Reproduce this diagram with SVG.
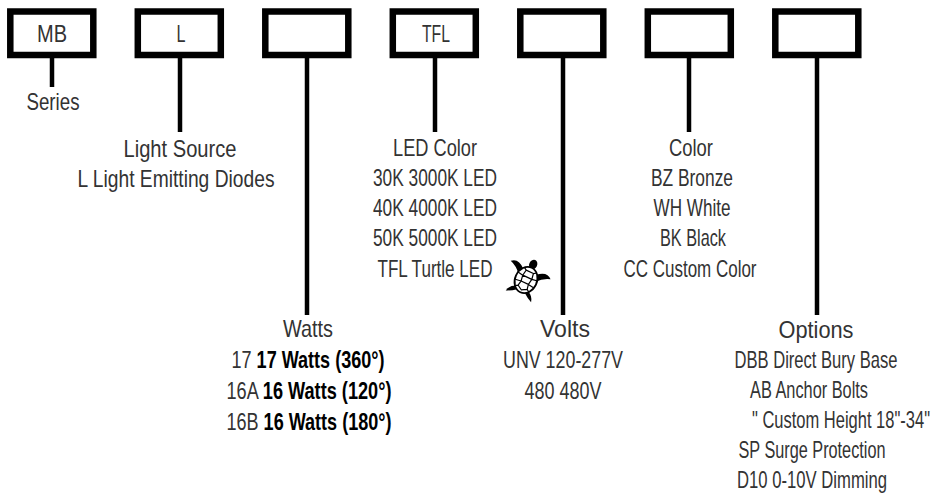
<svg xmlns="http://www.w3.org/2000/svg" width="932" height="494" viewBox="0 0 932 494">
<style>
.box{fill:#fff;stroke:#000;stroke-width:6.5}
.conn{stroke:#000;stroke-width:4.5;fill:none}
.t{font-family:"Liberation Sans",Arial,sans-serif;font-size:24px;fill:#333;text-anchor:middle}
.b{font-weight:bold;fill:#000}
</style>
<rect width="932" height="494" fill="#fff"/>
<g id="connectors">
<line class="conn" x1="52" y1="58" x2="52" y2="87"/>
<line class="conn" x1="180" y1="58" x2="180" y2="132"/>
<line class="conn" x1="307" y1="58" x2="307" y2="315"/>
<line class="conn" x1="435" y1="58" x2="435" y2="132"/>
<line class="conn" x1="563" y1="58" x2="563" y2="315"/>
<line class="conn" x1="689" y1="58" x2="689" y2="132"/>
<line class="conn" x1="817" y1="58" x2="817" y2="315"/>
</g>
<g id="node-series">
<rect class="box" x="10.3" y="11.5" width="83" height="43.5"/>
<text class="t" x="52" y="42" textLength="30" lengthAdjust="spacingAndGlyphs">MB</text>
<text class="t" x="53" y="110" textLength="53" lengthAdjust="spacingAndGlyphs">Series</text>
</g>
<g id="node-light-source">
<rect class="box" x="137.8" y="11.5" width="83" height="43.5"/>
<text class="t" x="181" y="42" textLength="9" lengthAdjust="spacingAndGlyphs">L</text>
<text class="t" x="180" y="157" textLength="113" lengthAdjust="spacingAndGlyphs">Light Source</text>
<text class="t" x="176" y="187" textLength="197" lengthAdjust="spacingAndGlyphs">L Light Emitting Diodes</text>
</g>
<g id="node-watts">
<rect class="box" x="265.3" y="11.5" width="83" height="43.5"/>
<text class="t" x="308" y="337" textLength="50" lengthAdjust="spacingAndGlyphs">Watts</text>
<text class="t" x="308" y="368" textLength="153" lengthAdjust="spacingAndGlyphs">17 <tspan class="b">17 Watts (360°)</tspan></text>
<text class="t" x="309" y="399" textLength="165" lengthAdjust="spacingAndGlyphs">16A <tspan class="b">16 Watts (120°)</tspan></text>
<text class="t" x="309" y="430" textLength="165" lengthAdjust="spacingAndGlyphs">16B <tspan class="b">16 Watts (180°)</tspan></text>
</g>
<g id="node-led-color">
<rect class="box" x="392.8" y="11.5" width="83" height="43.5"/>
<text class="t" x="436" y="42" textLength="28" lengthAdjust="spacingAndGlyphs">TFL</text>
<text class="t" x="435" y="156" textLength="84" lengthAdjust="spacingAndGlyphs">LED Color</text>
<text class="t" x="435" y="186" textLength="124" lengthAdjust="spacingAndGlyphs">30K 3000K LED</text>
<text class="t" x="435" y="216" textLength="124" lengthAdjust="spacingAndGlyphs">40K 4000K LED</text>
<text class="t" x="435" y="246" textLength="124" lengthAdjust="spacingAndGlyphs">50K 5000K LED</text>
<text class="t" x="435" y="277" textLength="115" lengthAdjust="spacingAndGlyphs">TFL Turtle LED</text>
</g>
<g id="turtle" transform="translate(526 280) rotate(25)">
<ellipse cx="0" cy="-17" rx="4" ry="5" fill="#000"/>
<path d="M-7,-9 Q-16,-17 -22,-11 Q-15,-9 -9,-2 Z" fill="#000"/>
<path d="M7,-9 Q16,-17 22,-11 Q15,-9 9,-2 Z" fill="#000"/>
<path d="M-6,9 Q-13,12 -14,18 Q-9,16 -4,12 Z" fill="#000"/>
<path d="M6,9 Q13,12 14,18 Q9,16 4,12 Z" fill="#000"/>
<ellipse cx="0" cy="0" rx="11" ry="13.5" fill="#fff" stroke="#000" stroke-width="1.8"/>
<path d="M-4,-9 L4,-9 L5,-3 L4,3 L5,8 L0,11 L-5,8 L-4,3 L-5,-3 Z M-5,-3 L5,-3 M-4,3 L4,3 M-5,-3 L-11,-4 M-4,3 L-11,4 M5,-3 L11,-4 M4,3 L11,4 M-4,-9 L-7,-11 M4,-9 L7,-11 M-5,8 L-8,10 M5,8 L8,10" fill="none" stroke="#000" stroke-width="1.2"/>
</g>
<g id="node-volts">
<rect class="box" x="520.3" y="11.5" width="83" height="43.5"/>
<text class="t" x="565" y="337" textLength="50" lengthAdjust="spacingAndGlyphs">Volts</text>
<text class="t" x="563" y="368" textLength="120" lengthAdjust="spacingAndGlyphs">UNV 120-277V</text>
<text class="t" x="563" y="399" textLength="77" lengthAdjust="spacingAndGlyphs">480 480V</text>
</g>
<g id="node-color">
<rect class="box" x="647.8" y="11.5" width="83" height="43.5"/>
<text class="t" x="691" y="156" textLength="44" lengthAdjust="spacingAndGlyphs">Color</text>
<text class="t" x="692" y="186" textLength="82" lengthAdjust="spacingAndGlyphs">BZ Bronze</text>
<text class="t" x="692" y="216" textLength="77" lengthAdjust="spacingAndGlyphs">WH White</text>
<text class="t" x="693" y="246" textLength="66" lengthAdjust="spacingAndGlyphs">BK Black</text>
<text class="t" x="690" y="277" textLength="133" lengthAdjust="spacingAndGlyphs">CC Custom Color</text>
</g>
<g id="node-options">
<rect class="box" x="775.3" y="11.5" width="83" height="43.5"/>
<text class="t" x="816" y="338" textLength="75" lengthAdjust="spacingAndGlyphs">Options</text>
<text class="t" x="816" y="368" textLength="163" lengthAdjust="spacingAndGlyphs">DBB Direct Bury Base</text>
<text class="t" x="809" y="398" textLength="118" lengthAdjust="spacingAndGlyphs">AB Anchor Bolts</text>
<text class="t" x="841" y="428" textLength="178" lengthAdjust="spacingAndGlyphs">" Custom Height 18"-34"</text>
<text class="t" x="812" y="458" textLength="147" lengthAdjust="spacingAndGlyphs">SP Surge Protection</text>
<text class="t" x="812" y="488" textLength="150" lengthAdjust="spacingAndGlyphs">D10 0-10V Dimming</text>
</g>
</svg>
